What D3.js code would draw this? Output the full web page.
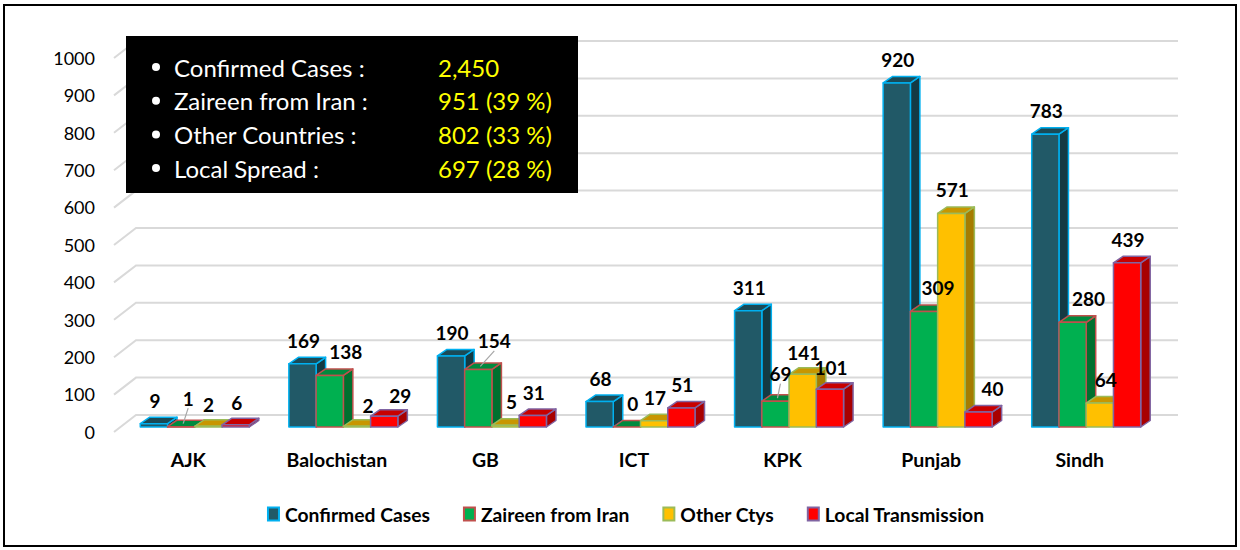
<!DOCTYPE html>
<html>
<head>
<meta charset="utf-8">
<script src="https://cdn.jsdelivr.net/npm/d3@7"></script>
<style>
  body { margin: 0; background: #fff; }
  svg text { font-family: Lato, "Open Sans", sans-serif; }
</style>
</head>
<body>
<svg id="chart" width="1240" height="550"></svg>
<script>
const categories = ["AJK", "Balochistan", "GB", "ICT", "KPK", "Punjab", "Sindh"];
const seriesNames = ["Confirmed Cases", "Zaireen from Iran", "Other Ctys", "Local Transmission"];
const confirmed = [9, 169, 190, 68, 311, 920, 783];
const zaireen = [1, 138, 154, 0, 69, 309, 280];
const otherCtys = [2, 2, 5, 17, 141, 571, 64];
const localTx = [6, 29, 31, 51, 101, 40, 439];
const yTicks = [0, 100, 200, 300, 400, 500, 600, 700, 800, 900, 1000];
const summaryLabels = ["Confirmed Cases :", "Zaireen from Iran :", "Other Countries :", "Local Spread :"];
const summaryValues = ["2,450", "951 (39 %)", "802 (33 %)", "697 (28 %)"];

const seriesValues = [confirmed, zaireen, otherCtys, localTx];

// face colours per series: front, top, side, border
const palette = [
    {front: "#215967", top: "#1b4a56", side: "#143a43", border: "#00b0f0"},
    {front: "#00b050", top: "#008a3e", side: "#00702f", border: "#c0504d"},
    {front: "#ffc000", top: "#c89600", side: "#a67c00", border: "#9bbb59"},
    {front: "#ff0000", top: "#c80000", side: "#a80000", border: "#8064a2"}
];

// hand placed label nudges (dx, dy, leader line) like the excel original
const nudges = {
    "AJK|1": [6, -5, true], "AJK|2": [-1, 2], "AJK|3": [0, 1],
    "Balochistan|1": [15, 0], "Balochistan|2": [10, 3], "Balochistan|3": [15, 3],
    "GB|1": [15, -5, true], "GB|2": [5, 0], "GB|3": [0, 1],
    "ICT|1": [5, 0],
    "KPK|1": [4, -4, true], "KPK|2": [0, 2], "KPK|3": [0, 2],
    "Punjab|1": [13, 0], "Punjab|3": [13, 0],
    "Sindh|1": [15, 0], "Sindh|2": [5, 0]
};

const svg = d3.select("#chart");
const baseY = 427;      // front base of the bars
const depthX = 9.5, depthY = -6.5;
const floorFrontX = 114, floorBackX = 136, plotRight = 1178;

const y = d3.scaleLinear().domain([0, 1000]).range([baseY, baseY - 374]);
const x = d3.scaleBand().domain(categories).range([floorFrontX, floorFrontX + 1040]);
const xs = d3.scaleBand().domain(d3.range(seriesNames.length)).range([0, 109]);

// frame
svg.append("rect").attr("x", 4).attr("y", 5).attr("width", 1232).attr("height", 541)
    .attr("fill", "none").attr("stroke", "#000").attr("stroke-width", 2);

// grid: back wall lines + side wall diagonals
const grid = svg.append("g").attr("stroke", "#d9d9d9").attr("stroke-width", 2).attr("fill", "none");
grid.selectAll("path").data(yTicks).join("path")
    .attr("d", d => `M${floorFrontX},${y(d) + 5}L${floorBackX},${y(d) - 12}L${plotRight},${y(d) - 12}`);

// y axis labels
const yLabel = y.copy().range(y.range().map(v => v + 5.5));
const yAxis = svg.append("g").attr("transform", "translate(104,0)")
    .call(d3.axisLeft(yLabel).tickValues(yTicks).tickSize(0).tickPadding(9).tickFormat(d3.format("d")));
yAxis.select(".domain").remove();
yAxis.selectAll("text").attr("font-size", 18).attr("fill", "#000")
    .style("font-family", "Lato, sans-serif");

// bars
const bars = svg.append("g");
categories.forEach((cat, ci) => {
    seriesValues.forEach((vals, si) => {
        const v = vals[ci];
        const c = palette[si];
        const x0 = x(cat) + x.bandwidth() / 2 + 6.5 - 54.5 + xs(si);
        const x1 = x0 + xs.bandwidth();
        const yt = y(v);
        const g = bars.append("g").attr("stroke", c.border).attr("stroke-width", 1.5)
            .attr("stroke-linejoin", "round");
        g.append("path").attr("fill", c.side)
            .attr("d", `M${x1},${baseY}L${x1 + depthX},${baseY + depthY}L${x1 + depthX},${yt + depthY}L${x1},${yt}Z`);
        g.append("path").attr("fill", c.top)
            .attr("d", `M${x0},${yt}L${x1},${yt}L${x1 + depthX},${yt + depthY}L${x0 + depthX},${yt + depthY}Z`);
        g.append("rect").attr("fill", c.front)
            .attr("x", x0).attr("y", yt).attr("width", x1 - x0).attr("height", baseY - yt);
    });
});

// value labels
const labels = svg.append("g");
categories.forEach((cat, ci) => {
    seriesValues.forEach((vals, si) => {
        const v = vals[ci];
        const x0 = x(cat) + x.bandwidth() / 2 + 6.5 - 54.5 + xs(si);
        const cx = x0 + xs.bandwidth() / 2 + 1;
        const yt = y(v);
        const n = nudges[cat + "|" + si] || [0, 0];
        const lx = cx + n[0], ly = yt - 23.5 + n[1];
        if (n[2]) {
            labels.append("line").attr("x1", lx).attr("y1", ly + 10)
                .attr("x2", cx + 1).attr("y2", yt - 3)
                .attr("stroke", "#a6a6a6").attr("stroke-width", 1.2);
        }
        labels.append("text").attr("x", lx).attr("y", ly)
            .attr("text-anchor", "middle").attr("dominant-baseline", "central")
            .attr("font-size", 19).attr("font-weight", "bold").attr("fill", "#000")
            .text(v);
    });
});

// category labels
svg.append("g").selectAll("text").data(categories).join("text")
    .attr("x", d => x(d) + x.bandwidth() / 2)
    .attr("y", 459)
    .attr("text-anchor", "middle").attr("dominant-baseline", "central")
    .attr("font-size", 19.5).attr("font-weight", "bold").attr("fill", "#000")
    .text(d => d);

// legend
const legend = svg.append("g");
let lxPos = 0;
seriesNames.forEach((name, i) => {
    const item = legend.append("g").attr("transform", `translate(${lxPos},0)`);
    item.append("rect").attr("x", 0).attr("y", -6.5).attr("width", 11).attr("height", 13)
        .attr("fill", palette[i].front).attr("stroke", palette[i].border).attr("stroke-width", 2);
    const t = item.append("text").attr("x", 17).attr("y", 0)
        .attr("dominant-baseline", "central")
        .attr("font-size", 19.3).attr("font-weight", "bold").attr("fill", "#000")
        .text(name);
    lxPos += 17 + t.node().getComputedTextLength() + 34;
});
const legendW = lxPos - 34;
legend.attr("transform", `translate(${626 - legendW / 2},514)`);

// summary box
const box = svg.append("g");
box.append("rect").attr("x", 126).attr("y", 36).attr("width", 452).attr("height", 157).attr("fill", "#000");
summaryLabels.forEach((s, i) => {
    const ty = 67 + i * 33.7;
    box.append("circle").attr("cx", 156).attr("cy", ty).attr("r", 4).attr("fill", "#fff");
    box.append("text").attr("x", 174).attr("y", ty).attr("dominant-baseline", "central")
        .attr("font-size", 24).attr("fill", "#fff").text(s);
    box.append("text").attr("x", 438).attr("y", ty).attr("dominant-baseline", "central")
        .attr("font-size", 24).attr("fill", "#ffff00").text(summaryValues[i]);
});
</script>
</body>
</html>
